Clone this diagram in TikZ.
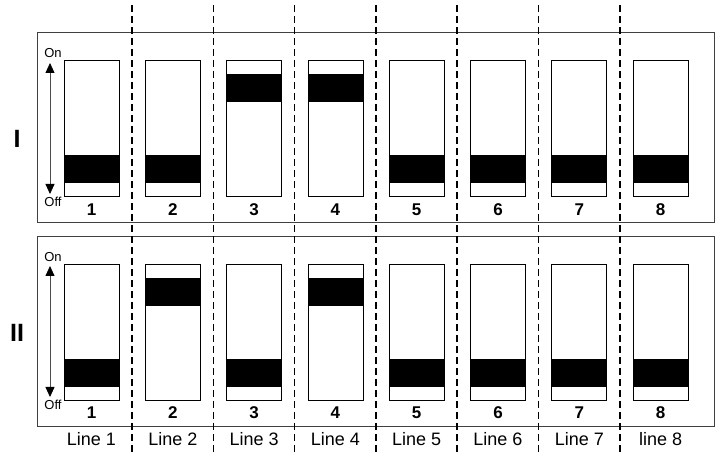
\documentclass[tikz,border=0pt]{standalone}
\usepackage{fontspec}
\setmainfont{Liberation Sans}
\usetikzlibrary{arrows.meta}

\tikzset{
  panel/.style={draw=black!75, line width=1pt},
  switchbox/.style={draw, line width=0.8pt, minimum width=55pt, minimum height=136pt, inner sep=0pt},
  lever/.style={fill=black},
  divider/.style={line width=1.5pt, dash pattern=on 7pt off 4pt},
  num/.style={font=\fontsize{17}{19}\selectfont\bfseries},
  rowlabel/.style={font=\fontsize{25}{28}\selectfont\bfseries},
  linelabel/.style={font=\fontsize{18}{20}\selectfont},
  endlabel/.style={font=\fontsize{13}{15}\selectfont, inner sep=0pt},
  updown/.style={{Triangle[width=9pt,length=10pt,color=black]}-{Triangle[width=9pt,length=10pt,color=black]},
    draw=black!70, line width=0.8pt},
}

\begin{document}
\begin{tikzpicture}[x=1pt,y=-1pt]
  \useasboundingbox (0,0) rectangle (716,454);

  % Two panels
  \draw[panel] (37,33) rectangle (714,223);
  \draw[panel] (37,237) rectangle (714,427);
  \node[rowlabel] (rowI) at (17,139) {I};
  \node[rowlabel] (rowII) at (17,333) {II};

  % Panel I: lever offset from switch centre (+41 = off, -40 = on)
  \foreach \k/\lv in {1/41,2/41,3/-40,4/-40,5/41,6/41,7/41,8/41} {
    \pgfmathsetmacro{\xs}{91.5 + (\k-1)*81.3}
    \node[switchbox] (swI\k) at (\xs,128) {};
    \fill[lever] ({\xs-27.5},{128+\lv-14}) rectangle ({\xs+27.5},{128+\lv+14});
    \node[num] (nI\k) at (\xs,210) {\k};
  }

  % Panel II
  \foreach \k/\lv in {1/41,2/-40,3/41,4/-40,5/41,6/41,7/41,8/41} {
    \pgfmathsetmacro{\xs}{91.5 + (\k-1)*81.3}
    \node[switchbox] (swII\k) at (\xs,332) {};
    \fill[lever] ({\xs-27.5},{332+\lv-14}) rectangle ({\xs+27.5},{332+\lv+14});
    \node[num] (nII\k) at (\xs,413) {\k};
  }

  % On/Off arrows
  \coordinate (onI) at (50,63);
  \coordinate (offI) at (50,194);
  \draw[updown] (onI) -- (offI);
  \node[endlabel] (tonI) at (53,53) {On};
  \node[endlabel] (toffI) at (53,202) {Off};

  \coordinate (onII) at (50,266);
  \coordinate (offII) at (50,397);
  \draw[updown] (onII) -- (offII);
  \node[endlabel] (tonII) at (53,257) {On};
  \node[endlabel] (toffII) at (53,405) {Off};

  % Dashed dividers between the lines
  \foreach \k in {1,...,7} {
    \pgfmathsetmacro{\xd}{132 + (\k-1)*81.3}
    \draw[divider] (\xd,5) -- (\xd,454);
  }

  % Line names
  \foreach \k/\txt in {1/Line 1,2/Line 2,3/Line 3,4/Line 4,5/Line 5,6/Line 6,7/Line 7,8/line 8} {
    \pgfmathsetmacro{\xs}{91.5 + (\k-1)*81.3}
    \node[linelabel] (ln\k) at (\xs,439) {\txt};
  }
\end{tikzpicture}
\end{document}
